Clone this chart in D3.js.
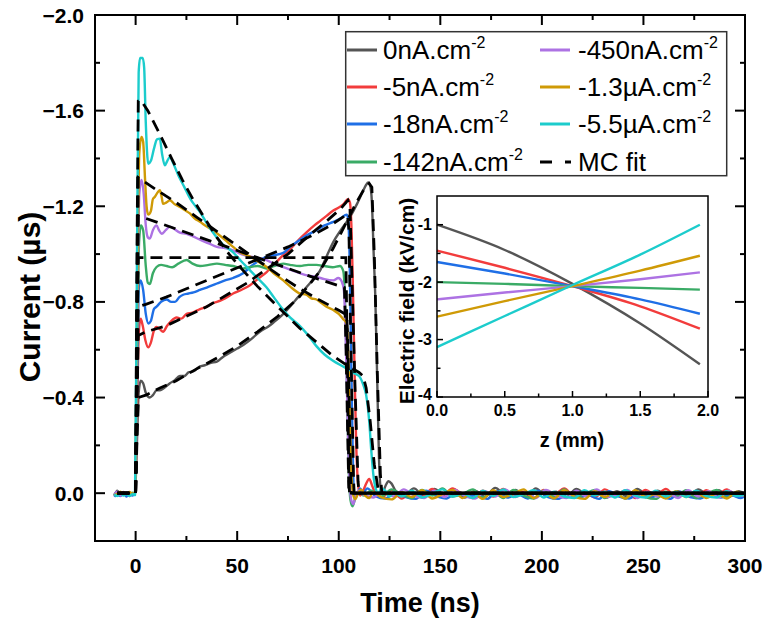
<!DOCTYPE html>
<html><head><meta charset="utf-8">
<script src="https://cdn.jsdelivr.net/npm/d3@7"></script>
<style>body{margin:0;background:#fff}svg{display:block;font-family:Arial,"Liberation Sans",sans-serif}</style>
</head><body><svg id="c" width="768" height="626"></svg>
<script>
// ---------- DATA (time ns, current) ----------
const seriesNames = ["0nA.cm","-5nA.cm","-18nA.cm","-142nA.cm","-450nA.cm","-1.3µA.cm","-5.5µA.cm"];
const seriesColors = ["#555555","#f23c3c","#1f6fe6","#3aab66","#ad72e3","#cf9a06","#1ccccc"];

const grayData = [[-10.5,0.01],[-9,-0.01],[-7.5,0.008],[-6,-0.005],[-4.5,0.012],[-3,0.0],[-1.5,0.006],[-0.3,0.0],[0.6,-0.2],[1.5,-0.42],[2.5,-0.47],[3.7,-0.46],[5,-0.42],[7,-0.40],[8.5,-0.41],[10.3,-0.43],[12,-0.43],[14,-0.44],[16.9,-0.46],[19,-0.47],[21.8,-0.49],[24,-0.49],[26,-0.505],[28.5,-0.51],[31.7,-0.53],[34,-0.535],[37,-0.545],[40,-0.55],[43,-0.57],[46,-0.585],[50,-0.605],[53,-0.62],[56.3,-0.64],[59,-0.66],[62,-0.68],[65,-0.695],[68,-0.715],[72.7,-0.75],[76,-0.78],[80,-0.82],[84,-0.86],[87.5,-0.895],[90.7,-0.93],[94,-0.99],[97.3,-1.05],[101,-1.10],[105.5,-1.155],[109,-1.21],[112,-1.265],[113.5,-1.29],[114.5,-1.30],[115.5,-1.285],[116.3,-1.22],[117.2,-1.0],[118,-0.82],[119,-0.45],[119.8,-0.15],[120.5,-0.03],[121.5,0.0],[123,-0.03],[124.5,-0.05],[126,-0.04],[128,-0.01]];
const grayTail = [[132,0.01],[137,-0.02],[142,0.012],[147,-0.018],[152,0.006],[157,-0.015],[162,0.018],[167,-0.01],[172,0.015],[177,-0.022],[182,0.004],[187,-0.014],[192,0.016],[197,-0.02],[202,0.01],[207,-0.006],[212,0.016],[217,-0.018],[222,0.006],[227,-0.012],[232,0.018],[237,-0.008],[242,0.014],[247,-0.018],[252,0.01],[257,-0.01],[262,0.016],[267,-0.008],[272,0.012],[277,-0.016],[282,0.008],[287,-0.012],[292,0.016],[297,-0.008],[300,0.004]];

const redData = [[-10.5,0.012],[-9,0.0],[-7.5,0.01],[-6,-0.004],[-4.5,0.008],[-3,0.012],[-1.5,0.0],[-0.3,0.004],[0.7,-0.35],[1.6,-0.68],[2.5,-0.73],[3.5,-0.70],[4.8,-0.64],[6.2,-0.61],[7.5,-0.63],[9,-0.68],[10.3,-0.695],[12,-0.685],[13.5,-0.675],[15.5,-0.70],[17.5,-0.72],[20.2,-0.735],[22.5,-0.73],[25.1,-0.75],[28,-0.755],[31.7,-0.77],[35,-0.78],[38,-0.795],[40,-0.80],[44,-0.815],[48,-0.835],[52,-0.85],[56.3,-0.87],[60,-0.895],[64.5,-0.925],[68,-0.955],[72,-0.99],[76,-1.02],[80.9,-1.065],[84,-1.09],[88,-1.12],[91,-1.14],[94,-1.16],[97,-1.18],[100,-1.195],[102.5,-1.21],[104.5,-1.23],[105.5,-1.215],[106.3,-1.1],[107,-0.85],[107.8,-0.5],[108.6,-0.2],[109.5,-0.04],[110.5,0.01],[112,-0.01],[113.5,-0.04],[115,-0.06],[116.5,-0.03],[118,0.0]];
const redTail = [[121,0.018],[126,-0.012],[131,0.022],[136,-0.006],[141,0.016],[146,-0.018],[151,0.01],[156,-0.02],[161,0.006],[166,0.02],[171,-0.01],[176,0.014],[181,-0.018],[186,0.01],[191,-0.006],[196,0.02],[201,-0.014],[206,0.006],[211,-0.02],[216,0.014],[221,-0.006],[226,0.018],[231,-0.016],[236,0.006],[241,-0.01],[246,0.02],[251,-0.014],[256,0.01],[261,-0.018],[266,0.014],[271,-0.004],[276,0.018],[281,-0.012],[286,0.01],[291,-0.016],[296,0.012],[300,0.0]];

const blueData = [[-10.5,0.015],[-9,0.005],[-7.5,0.012],[-6,0.0],[-4.5,0.014],[-3,0.004],[-1.5,0.01],[-0.3,0.002],[0.7,-0.45],[1.6,-0.86],[2.5,-0.89],[3.7,-0.85],[5,-0.75],[6.3,-0.71],[7.5,-0.72],[9,-0.77],[10.3,-0.78],[12.5,-0.80],[15.3,-0.81],[17.5,-0.80],[19.4,-0.80],[21.5,-0.82],[23.4,-0.83],[26,-0.835],[28.5,-0.84],[31.7,-0.85],[35,-0.86],[38,-0.87],[40,-0.877],[44,-0.89],[48,-0.90],[52.9,-0.92],[57,-0.95],[61.2,-0.975],[65,-0.99],[68,-0.995],[72.7,-1.005],[76,-1.03],[80.9,-1.06],[84.5,-1.08],[89.1,-1.10],[93,-1.12],[97.3,-1.135],[101,-1.15],[103.9,-1.165],[104.6,-1.15],[105.3,-1.0],[105.9,-0.7],[106.5,-0.35],[107.1,-0.08],[107.8,0.02],[109,0.01],[110.5,-0.02],[112,0.0],[114,-0.02]];
const blueTail = [[118,0.012],[123,0.022],[128,-0.006],[133,0.016],[138,0.024],[143,-0.01],[148,0.012],[153,0.022],[158,-0.004],[163,0.016],[168,0.006],[173,0.024],[178,-0.008],[183,0.018],[188,0.004],[193,0.022],[198,-0.01],[203,0.016],[208,0.024],[213,0.0],[218,0.018],[223,0.008],[228,0.024],[233,-0.008],[238,0.014],[243,0.022],[248,0.0],[253,0.018],[258,0.008],[263,0.024],[268,-0.006],[273,0.016],[278,0.022],[283,0.002],[288,0.018],[293,0.008],[298,0.02],[300,0.012]];

const greenData = [[-10.5,0.0],[-9,0.01],[-7.5,-0.004],[-6,0.008],[-4.5,0.0],[-3,0.01],[-1.5,-0.002],[-0.3,0.005],[0.7,-0.55],[1.7,-1.05],[2.6,-1.12],[3.7,-1.10],[5,-0.95],[6,-0.88],[7,-0.875],[8.5,-0.92],[10.3,-0.946],[12.5,-0.955],[15.3,-0.95],[18,-0.945],[21,-0.96],[25.1,-0.975],[28,-0.96],[31.7,-0.95],[36,-0.955],[40,-0.96],[44,-0.955],[48,-0.95],[53,-0.94],[56,-0.945],[60,-0.95],[64.5,-0.94],[68,-0.95],[72.7,-0.96],[76,-0.955],[80.9,-0.95],[85,-0.955],[89,-0.955],[93,-0.95],[97,-0.945],[100.6,-0.95],[102.2,-0.93],[103,-0.83],[103.7,-0.6],[104.4,-0.3],[105,-0.08],[105.8,0.03],[106.8,0.055],[107.8,0.03],[109,0.0],[110.5,-0.01],[112,0.01]];
const greenTail = [[116,-0.01],[121,0.014],[126,-0.016],[131,0.006],[136,0.02],[141,-0.014],[146,0.01],[151,-0.02],[156,0.014],[161,0.004],[166,-0.016],[171,0.018],[176,-0.006],[181,0.02],[186,-0.014],[191,0.01],[196,0.022],[201,-0.01],[206,0.014],[211,-0.016],[216,0.018],[221,0.004],[226,-0.014],[231,0.02],[236,0.0],[241,0.022],[246,-0.01],[251,0.016],[256,0.024],[261,-0.006],[266,0.016],[271,-0.012],[276,0.02],[281,0.004],[286,-0.014],[291,0.018],[296,-0.004],[300,0.01]];

const purpleData = [[-10.5,0.006],[-9,-0.006],[-7.5,0.01],[-6,0.002],[-4.5,-0.004],[-3,0.008],[-1.5,0.003],[-0.3,0.0],[0.7,-0.65],[1.8,-1.25],[2.9,-1.31],[4,-1.25],[5,-1.12],[6,-1.07],[7,-1.065],[8.5,-1.10],[10.3,-1.12],[11.5,-1.10],[12.8,-1.085],[14.8,-1.10],[16.9,-1.115],[19,-1.105],[21.8,-1.09],[25.1,-1.085],[28,-1.075],[31.7,-1.06],[36,-1.045],[40,-1.03],[44,-1.025],[48,-1.016],[52,-1.00],[56,-0.99],[60,-0.985],[64.5,-0.975],[68,-0.96],[72.7,-0.946],[76,-0.935],[80.9,-0.92],[85,-0.91],[89,-0.905],[93,-0.895],[97.3,-0.89],[99.8,-0.90],[101.5,-0.885],[102.5,-0.85],[103.3,-0.7],[104,-0.45],[104.7,-0.2],[105.4,-0.04],[106.2,0.03],[107.2,0.045],[108.3,0.01],[110,-0.01],[112,0.005]];
const purpleTail = [[117,0.018],[122,-0.008],[127,0.014],[132,-0.016],[137,0.01],[142,0.02],[147,-0.01],[152,0.016],[157,-0.014],[162,0.01],[167,0.022],[172,-0.008],[177,0.014],[182,-0.016],[187,0.016],[192,-0.004],[197,0.02],[202,-0.014],[207,0.01],[212,0.02],[217,-0.01],[222,0.014],[227,-0.016],[232,0.016],[237,0.006],[242,-0.014],[247,0.02],[252,-0.006],[257,0.014],[262,0.0],[267,0.02],[272,-0.012],[277,0.014],[282,-0.008],[287,0.018],[292,-0.01],[297,0.012],[300,0.006]];

const yellowData = [[-10.5,0.008],[-9,0.003],[-7.5,-0.006],[-6,0.006],[-4.5,0.0],[-3,-0.005],[-1.5,0.002],[-0.3,-0.004],[0.7,-0.75],[1.8,-1.42],[2.9,-1.49],[3.7,-1.47],[4.6,-1.32],[5.4,-1.2],[6.2,-1.165],[7.5,-1.18],[8.5,-1.23],[9.5,-1.24],[11,-1.26],[11.9,-1.267],[12.8,-1.24],[13.5,-1.21],[15,-1.215],[16.9,-1.225],[19,-1.21],[21.8,-1.197],[24,-1.185],[26.7,-1.17],[29,-1.15],[31.7,-1.135],[35,-1.115],[38,-1.1],[40,-1.087],[44,-1.06],[48,-1.03],[52,-1.005],[56.3,-0.99],[60,-0.97],[64.5,-0.946],[68,-0.92],[72.7,-0.89],[76,-0.865],[80.9,-0.835],[84,-0.83],[86.5,-0.815],[89,-0.81],[91.5,-0.795],[94,-0.78],[97.3,-0.766],[100,-0.75],[102,-0.73],[103.9,-0.71],[104.6,-0.6],[105.2,-0.4],[105.8,-0.2],[106.4,-0.06],[107.2,0.01],[108.2,0.025],[109.5,0.0],[111,-0.015],[113,0.01],[115,0.02],[117,-0.005]];
const yellowTail = [[121,0.018],[126,0.026],[131,-0.004],[136,0.016],[141,-0.012],[146,0.022],[151,0.004],[156,-0.014],[161,0.02],[166,-0.002],[171,0.024],[176,-0.012],[181,0.016],[186,0.004],[191,-0.016],[196,0.02],[201,0.0],[206,0.022],[211,-0.012],[216,0.014],[221,0.024],[226,-0.008],[231,0.016],[236,-0.002],[241,0.022],[246,-0.012],[251,0.016],[256,0.004],[261,0.022],[266,-0.008],[271,0.016],[276,-0.004],[281,0.02],[286,0.002],[291,0.022],[296,-0.006],[300,0.012]];

const cyanData = [[-10.5,0.005],[-9,0.012],[-7.5,0.0],[-6,0.01],[-4.5,0.004],[-3,0.012],[-1.5,0.004],[-0.3,0.008],[0.6,-0.9],[1.5,-1.76],[2.2,-1.82],[3.5,-1.82],[4.2,-1.78],[5,-1.55],[6.2,-1.378],[7.5,-1.39],[9,-1.44],[10.5,-1.48],[11.9,-1.483],[13,-1.42],[14.4,-1.371],[15.6,-1.39],[16.9,-1.406],[18.5,-1.38],[21,-1.33],[24,-1.28],[27,-1.23],[29.5,-1.2],[31.7,-1.176],[35,-1.13],[39,-1.08],[43,-1.04],[47.9,-1.008],[52,-0.97],[56,-0.935],[60,-0.9],[64.4,-0.861],[68,-0.82],[72.4,-0.77],[76,-0.735],[80.8,-0.70],[85,-0.66],[89,-0.615],[93,-0.58],[97,-0.555],[101,-0.535],[105,-0.517],[108,-0.50],[110,-0.49],[112,-0.455],[113.5,-0.41],[115,-0.3],[116,-0.18],[117,-0.08],[118.2,-0.02],[119.5,0.0],[121,-0.02],[123,-0.01],[125,0.015],[127,-0.005]];
const cyanTail = [[131,0.014],[136,-0.01],[141,0.018],[146,0.002],[151,-0.016],[156,0.014],[161,0.0],[166,0.02],[171,-0.01],[176,0.012],[181,-0.016],[186,0.016],[191,0.004],[196,-0.012],[201,0.018],[206,-0.006],[211,0.014],[216,0.02],[221,-0.012],[226,0.01],[231,-0.006],[236,0.018],[241,-0.012],[246,0.01],[251,0.018],[256,-0.01],[261,0.014],[266,-0.006],[271,0.016],[276,-0.01],[281,0.012],[286,0.018],[291,-0.008],[296,0.012],[300,0.004]];

// MC fits
const fitGray = [[-9,0],[0,0],[0.6,-0.2],[1.4,-0.40],[5,-0.41],[12,-0.44],[20,-0.47],[30,-0.52],[40,-0.565],[50,-0.615],[60,-0.675],[70,-0.74],[80,-0.815],[90,-0.92],[97,-1.02],[103,-1.12],[108,-1.205],[112,-1.265],[115,-1.295],[116.3,-1.28],[117.5,-1.0],[119,-0.5],[120.5,-0.08],[121.2,0],[300,0]];
const fitRed = [[-9,0],[0,0],[0.6,-0.35],[1.3,-0.66],[5,-0.675],[15,-0.70],[25,-0.74],[35,-0.78],[45,-0.83],[55,-0.88],[65,-0.94],[75,-1.00],[85,-1.075],[95,-1.145],[101,-1.19],[104.5,-1.225],[105.5,-1.2],[106.5,-0.9],[108,-0.45],[109.5,-0.05],[110,0],[300,0]];
const fitBlue = [[-9,0],[0,0],[0.6,-0.4],[1.3,-0.78],[5,-0.79],[15,-0.82],[25,-0.855],[35,-0.89],[45,-0.925],[55,-0.96],[65,-0.995],[75,-1.03],[85,-1.07],[95,-1.115],[103,-1.16],[104.3,-1.165],[105,-1.1],[106,-0.6],[107.3,-0.05],[107.6,0],[300,0]];
const fitGreen = [[-9,0],[0,0],[0.6,-0.5],[1.3,-0.985],[103.5,-0.985],[104.2,-0.6],[105,-0.05],[105.3,0],[300,0]];
const fitPurple = [[-9,0],[0,0],[0.6,-0.6],[1.3,-1.16],[10,-1.135],[20,-1.105],[30,-1.075],[40,-1.045],[50,-1.015],[60,-0.985],[70,-0.955],[80,-0.925],[90,-0.895],[100,-0.868],[102.8,-0.86],[103.6,-0.6],[104.5,-0.2],[105,0],[300,0]];
const fitYellow = [[-9,0],[0,0],[0.6,-0.7],[1.3,-1.32],[10,-1.27],[20,-1.215],[30,-1.155],[40,-1.095],[50,-1.035],[60,-0.975],[70,-0.915],[80,-0.86],[90,-0.81],[100,-0.765],[104,-0.745],[104.8,-0.5],[105.8,-0.1],[106.2,0],[300,0]];
const fitCyan = [[-9,0],[0,0],[0.5,-0.85],[1.3,-1.64],[2.5,-1.645],[6,-1.60],[12,-1.50],[17.7,-1.40],[23,-1.31],[28.2,-1.23],[34,-1.15],[40,-1.07],[46,-1.0],[52,-0.94],[60,-0.865],[70,-0.78],[80.8,-0.69],[90,-0.625],[97,-0.575],[104,-0.535],[110,-0.505],[112,-0.49],[113.5,-0.44],[115.5,-0.3],[117.5,-0.12],[119.5,-0.01],[120,0],[300,0]];

// Axis ticks
const xMajor = [0,50,100,150,200,250,300];
const xMinor = [25,75,125,175,225,275];
const yMajor = [-2.0,-1.6,-1.2,-0.8,-0.4,0.0];
const yMinor = [-1.8,-1.4,-1.0,-0.6,-0.2];

// Inset: electric field vs z
const insetZ = [0, 0.5, 1.0, 1.5, 1.94];
const fieldGray   = [-1.0, -1.44, -2.03, -2.72, -3.43];
const fieldRed    = [-1.45, -1.75, -2.07, -2.42, -2.81];
const fieldBlue   = [-1.65, -1.85, -2.07, -2.30, -2.55];
const fieldGreen  = [-2.0, -2.03, -2.07, -2.10, -2.13];
const fieldPurple = [-2.3, -2.18, -2.07, -1.95, -1.83];
const fieldYellow = [-2.6, -2.33, -2.07, -1.80, -1.54];
const fieldCyan   = [-3.13, -2.59, -2.05, -1.52, -1.0];
const insetXMajor = [0,0.5,1.0,1.5,2.0];
const insetXMinor = [0.25,0.75,1.25,1.75];
const insetYMajor = [-1,-2,-3,-4];
const insetYMinor = [-1.5,-2.5,-3.5];

// ---------- DRAW ----------
const svg = d3.select("#c");
const L=95,R=745,T=15,B=541;
const x = d3.scaleLinear().domain([-20,300]).range([L,R]);
const y = d3.scaleLinear().domain([0.2,-2.0]).range([B,T]);

svg.append("defs").append("clipPath").attr("id","clip").append("rect")
  .attr("x",L).attr("y",T).attr("width",R-L).attr("height",B-T);

const line = d3.line().x(d=>x(d[0])).y(d=>y(d[1])).curve(d3.curveMonotoneX);
const lineLin = d3.line().x(d=>x(d[0])).y(d=>y(d[1]));

const dataSets = [grayData.concat(grayTail), redData.concat(redTail), blueData.concat(blueTail),
  greenData.concat(greenTail), purpleData.concat(purpleTail), yellowData.concat(yellowTail), cyanData.concat(cyanTail)];
const fits = [fitGray, fitRed, fitBlue, fitGreen, fitPurple, fitYellow, fitCyan];

const g = svg.append("g").attr("clip-path","url(#clip)");
dataSets.forEach((d,i)=>{
  g.append("path").attr("d",line(d)).attr("fill","none")
   .attr("stroke",seriesColors[i]).attr("stroke-width",2.4).attr("stroke-linejoin","round");
});
fits.forEach(d=>{
  g.append("path").attr("d",lineLin(d)).attr("fill","none")
   .attr("stroke","#000").attr("stroke-width",2.8).attr("stroke-dasharray","12,7");
});

// frame + ticks (all inward)
const ax = svg.append("g").attr("stroke","#000").attr("stroke-width",2);
ax.append("rect").attr("x",L).attr("y",T).attr("width",R-L).attr("height",B-T).attr("fill","none");
function vt(v,len){ ax.append("line").attr("x1",x(v)).attr("x2",x(v)).attr("y1",B).attr("y2",B-len);
  ax.append("line").attr("x1",x(v)).attr("x2",x(v)).attr("y1",T).attr("y2",T+len);}
function ht(v,len){ ax.append("line").attr("y1",y(v)).attr("y2",y(v)).attr("x1",L).attr("x2",L+len);
  ax.append("line").attr("y1",y(v)).attr("y2",y(v)).attr("x1",R).attr("x2",R-len);}
xMajor.forEach(v=>vt(v,10)); xMinor.forEach(v=>vt(v,5));
yMajor.forEach(v=>ht(v,10)); yMinor.forEach(v=>ht(v,5));

const fmt1 = d3.format(".1f");
svg.append("g").selectAll("text").data(xMajor).join("text")
  .attr("x",d=>x(d)).attr("y",573).attr("text-anchor","middle")
  .attr("font-size",21).attr("font-weight","bold").text(d=>d);
svg.append("g").selectAll("text").data(yMajor).join("text")
  .attr("x",84).attr("y",d=>y(d)).attr("dy","0.36em").attr("text-anchor","end")
  .attr("font-size",21).attr("font-weight","bold").text(d=>fmt1(d));

svg.append("text").attr("x",(L+R)/2).attr("y",612).attr("text-anchor","middle")
  .attr("font-size",27).attr("font-weight","bold").text("Time (ns)");
svg.append("text").attr("transform","translate(40,297) rotate(-90)").attr("text-anchor","middle")
  .attr("font-size",30).attr("font-weight","bold").text("Current (µs)");

// legend
const lg = svg.append("g");
lg.append("rect").attr("x",345.7).attr("y",31.7).attr("width",381).attr("height",144)
  .attr("fill","#fff").attr("stroke","#333").attr("stroke-width",1.5);
const rowsY = [50,87,124,162];
const legendItems = [
  {i:0,col:0,row:0},{i:1,col:0,row:1},{i:2,col:0,row:2},{i:3,col:0,row:3},
  {i:4,col:1,row:0},{i:5,col:1,row:1},{i:6,col:1,row:2}];
const colX = [[347,377,383],[540,570,578]];
legendItems.forEach(it=>{
  const c = colX[it.col], yy = rowsY[it.row];
  lg.append("line").attr("x1",c[0]).attr("x2",c[1]).attr("y1",yy).attr("y2",yy)
    .attr("stroke",seriesColors[it.i]).attr("stroke-width",3);
  const t = lg.append("text").attr("x",c[2]).attr("y",yy+9).attr("font-size",26);
  t.append("tspan").text(seriesNames[it.i]);
  t.append("tspan").attr("font-size",16).attr("dy",-11).text("-2");
});
lg.append("line").attr("x1",540).attr("x2",571).attr("y1",rowsY[3]).attr("y2",rowsY[3])
  .attr("stroke","#000").attr("stroke-width",3).attr("stroke-dasharray","12,13");
lg.append("text").attr("x",578).attr("y",rowsY[3]+9).attr("font-size",26).text("MC fit");

// inset
const iL=437,iR=708,iT=196,iB=397;
const xi = d3.scaleLinear().domain([0,2]).range([iL,iR]);
const yi = d3.scaleLinear().domain([-4,-0.5]).range([iB,iT]);
const fields = [fieldGray,fieldRed,fieldBlue,fieldGreen,fieldPurple,fieldYellow,fieldCyan];
const li = d3.line().x((d,k)=>xi(insetZ[k])).y(d=>yi(d)).curve(d3.curveMonotoneX);
const ig = svg.append("g");
fields.forEach((f,i)=>{
  ig.append("path").attr("d",li(f)).attr("fill","none").attr("stroke",seriesColors[i]).attr("stroke-width",2.4);
});
const iax = svg.append("g").attr("stroke","#000").attr("stroke-width",1.5);
iax.append("rect").attr("x",iL).attr("y",iT).attr("width",iR-iL).attr("height",iB-iT).attr("fill","none");
insetXMajor.forEach(v=>iax.append("line").attr("x1",xi(v)).attr("x2",xi(v)).attr("y1",iB).attr("y2",iB-6));
insetXMinor.forEach(v=>iax.append("line").attr("x1",xi(v)).attr("x2",xi(v)).attr("y1",iB).attr("y2",iB-3.5));
insetYMajor.forEach(v=>iax.append("line").attr("y1",yi(v)).attr("y2",yi(v)).attr("x1",iL).attr("x2",iL+6));
insetYMinor.forEach(v=>iax.append("line").attr("y1",yi(v)).attr("y2",yi(v)).attr("x1",iL).attr("x2",iL+3.5));
svg.append("g").selectAll("text").data(insetXMajor).join("text")
  .attr("x",d=>xi(d)).attr("y",416).attr("text-anchor","middle")
  .attr("font-size",16).attr("font-weight","bold").text(d=>fmt1(d));
svg.append("g").selectAll("text").data(insetYMajor).join("text")
  .attr("x",432).attr("y",d=>yi(d)).attr("dy",d=>d===-4?"0.2em":"0.36em").attr("text-anchor","end")
  .attr("font-size",16).attr("font-weight","bold").text(d=>d);
svg.append("text").attr("x",572).attr("y",447).attr("text-anchor","middle")
  .attr("font-size",20).attr("font-weight","bold").text("z (mm)");
svg.append("text").attr("transform","translate(414,301) rotate(-90)").attr("text-anchor","middle")
  .attr("font-size",21).attr("font-weight","bold").text("Electric field (kV/cm)");
</script></body></html>
